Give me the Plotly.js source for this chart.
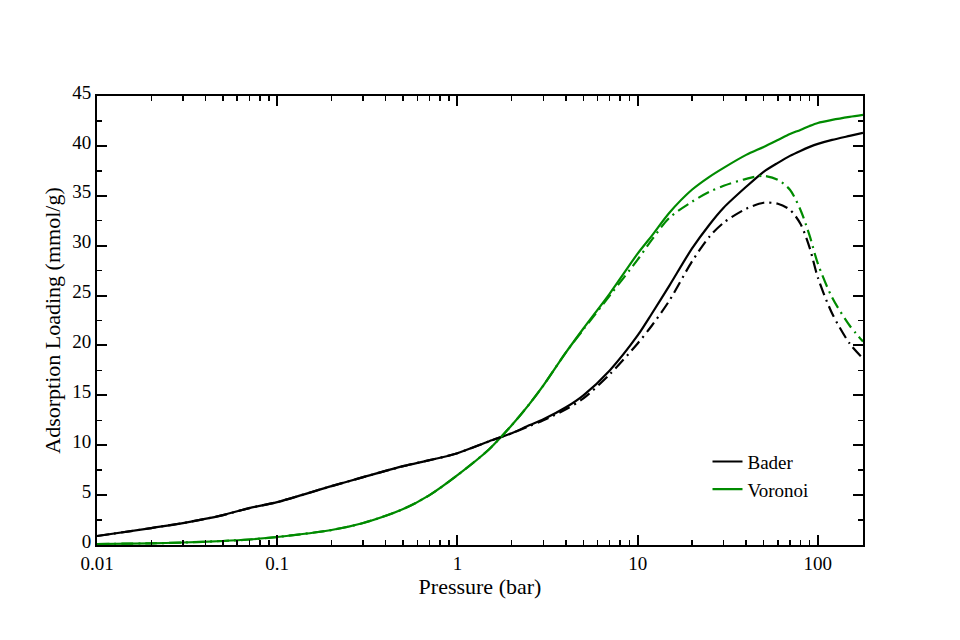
<!DOCTYPE html>
<html>
<head>
<meta charset="utf-8">
<script src="https://cdn.plot.ly/plotly-3.0.1.min.js"></script>
<style>
  html, body { margin: 0; padding: 0; background: #fff; }
  #chart { width: 960px; height: 640px; }
</style>
</head>
<body>
<div id="chart"></div>
<script>
// pressure (bar)
const pressure = [0.01, 0.02, 0.03, 0.05, 0.07, 0.1, 0.2, 0.3, 0.5, 0.7, 1, 1.5, 2, 2.5, 3, 4, 5, 7, 10, 12, 15, 20, 25, 30, 40, 50, 60, 70, 80, 90, 100, 120, 150, 178];

// solid curves
const baderSolid = [0.9, 1.7, 2.2, 3.0, 3.7, 4.3, 5.9, 6.8, 7.9, 8.5, 9.2, 10.4, 11.2, 12.0, 12.6, 13.8, 15.0, 17.5, 21.0, 23.2, 26.0, 29.7, 32.1, 33.8, 35.9, 37.4, 38.3, 39.0, 39.5, 39.9, 40.2, 40.6, 41.0, 41.3];
const voronoiSolid = [0.1, 0.17, 0.25, 0.4, 0.55, 0.8, 1.5, 2.2, 3.6, 5.0, 7.0, 9.6, 12.0, 14.1, 16.0, 19.3, 21.7, 25.2, 29.2, 31.0, 33.3, 35.6, 36.9, 37.8, 39.1, 39.9, 40.6, 41.2, 41.6, 42.0, 42.3, 42.6, 42.9, 43.1];

// dash-dot curves
const baderDash = [0.9, 1.7, 2.2, 3.0, 3.7, 4.3, 5.9, 6.8, 7.9, 8.5, 9.2, 10.4, 11.2, 11.9, 12.5, 13.6, 14.7, 17.1, 20.2, 22.0, 24.5, 28.4, 30.9, 32.3, 33.7, 34.3, 34.2, 33.6, 32.2, 29.8, 26.8, 23.2, 20.2, 18.7];
const voronoiDash = [0.1, 0.17, 0.25, 0.4, 0.55, 0.8, 1.5, 2.2, 3.6, 5.0, 7.0, 9.6, 12.0, 14.1, 16.0, 19.3, 21.6, 25.0, 28.6, 30.6, 32.8, 34.4, 35.4, 36.0, 36.7, 37.0, 36.6, 35.6, 33.6, 31.0, 28.2, 24.8, 22.0, 20.4];

const xTickVals = [0.01, 0.1, 1, 10, 100];
const xTickText = ['0.01', '0.1', '1', '10', '100'];

const black = '#000000';
const green = 'rgb(0,139,0)';
const dashDot = '12px,5px,2px,5px';

const traces = [
  {x: pressure, y: baderSolid, name: 'Bader', mode: 'lines',
   line: {color: black, width: 2.2, shape: 'spline', smoothing: 0.8}},
  {x: pressure, y: voronoiSolid, name: 'Voronoi', mode: 'lines',
   line: {color: green, width: 2.2, shape: 'spline', smoothing: 0.8}},
  {x: pressure, y: baderDash, name: 'Bader dash', mode: 'lines', showlegend: false,
   line: {color: black, width: 2.2, dash: dashDot, shape: 'spline', smoothing: 0.8}},
  {x: pressure, y: voronoiDash, name: 'Voronoi dash', mode: 'lines', showlegend: false,
   line: {color: green, width: 2.2, dash: dashDot, shape: 'spline', smoothing: 0.8}}
];

const axisFont = {family: 'Liberation Serif, Times New Roman, serif', size: 19, color: '#000'};
const titleFont = {family: 'Liberation Serif, Times New Roman, serif', size: 22, color: '#000'};

const layout = {
  width: 960,
  height: 640,
  paper_bgcolor: '#fff',
  plot_bgcolor: '#fff',
  margin: {l: 97, r: 97, t: 96, b: 95},
  showlegend: true,
  legend: {
    x: 0.797, y: 0.228, xanchor: 'left', yanchor: 'top',
    bgcolor: 'rgba(0,0,0,0)',
    font: {family: 'Liberation Serif, Times New Roman, serif', size: 19, color: '#000'},
    tracegroupgap: 0,
    itemwidth: 30
  },
  xaxis: {
    type: 'log',
    range: [-2, Math.log10(178)],
    tickvals: xTickVals,
    ticktext: xTickText,
    ticks: 'inside',
    ticklen: 10,
    tickwidth: 2,
    tickcolor: '#000',
    minor: {ticks: 'inside', ticklen: 5, tickwidth: 1.5, tickcolor: '#000', dtick: 'D1'},
    showline: true,
    linecolor: '#000',
    linewidth: 2,
    mirror: 'ticks',
    showgrid: false,
    zeroline: false,
    tickfont: axisFont,
    title: {text: 'Pressure (bar)', font: titleFont, standoff: 4}
  },
  yaxis: {
    range: [0, 45],
    dtick: 5,
    ticks: 'inside',
    ticklen: 10,
    tickwidth: 2,
    tickcolor: '#000',
    minor: {ticks: 'inside', ticklen: 5, tickwidth: 1.5, tickcolor: '#000', dtick: 2.5},
    showline: true,
    linecolor: '#000',
    linewidth: 2,
    mirror: 'ticks',
    showgrid: false,
    zeroline: false,
    tickfont: axisFont,
    ticklabelshift: -4,
    title: {text: 'Adsorption Loading (mmol/g)', font: titleFont, standoff: 6}
  }
};

Plotly.newPlot('chart', traces, layout, {displayModeBar: false, staticPlot: true});
</script>
</body>
</html>
